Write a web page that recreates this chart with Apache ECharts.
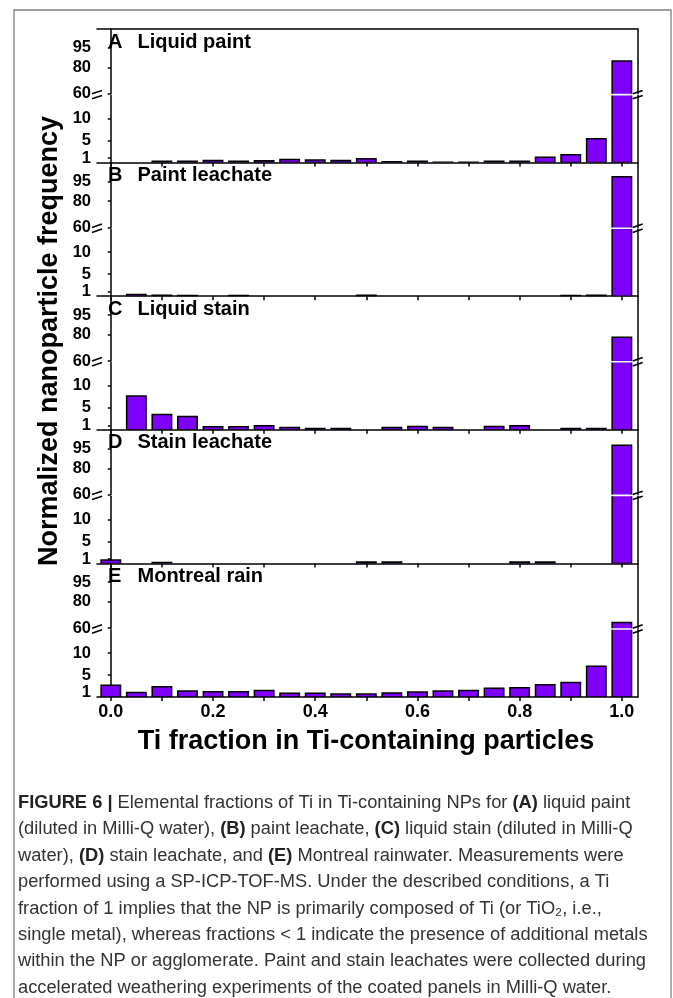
<!DOCTYPE html>
<html><head><meta charset="utf-8">
<script src="https://cdn.jsdelivr.net/npm/echarts@6/dist/echarts.min.js"></script>
<style>html,body{margin:0;padding:0;background:#fff}#c{width:673px;height:998px}</style>
</head><body><div id="c"></div>
<script>
// ---------- data ----------
const binCenters = [0,0.05,0.1,0.15,0.2,0.25,0.3,0.35,0.4,0.45,0.5,0.55,0.6,0.65,0.7,0.75,0.8,0.85,0.9,0.95,1.0];
const panelLetters = ['A','B','C','D','E'];
const panelNames = ['Liquid paint','Paint leachate','Liquid stain','Stain leachate','Montreal rain'];
const liquidPaint   = [0,0,0.3,0.3,0.5,0.3,0.4,0.7,0.6,0.45,0.9,0.2,0.3,0.1,0.1,0.3,0.3,1.2,1.8,5.4,85];
const paintLeachate = [0,0.4,0.2,0.15,0,0.15,0,0,0,0,0.2,0,0,0,0,0,0,0,0.15,0.2,98.5];
const liquidStain   = [0,7.7,3.5,3.0,0.7,0.7,0.9,0.5,0.3,0.3,0,0.5,0.75,0.5,0,0.75,0.9,0,0.3,0.3,78];
const stainLeachate = [0.8,0,0.2,0,0,0,0,0,0,0,0.3,0.3,0,0,0,0,0.3,0.3,0,0,97.5];
const montrealRain  = [2.65,1.05,2.35,1.35,1.2,1.2,1.5,0.85,0.85,0.7,0.7,0.9,1.15,1.35,1.5,2.0,2.1,2.8,3.3,7.0,64.4];
const xTickValues  = [0,0.1,0.2,0.3,0.4,0.5,0.6,0.7,0.8,0.9,1.0];
const xLabelValues = [0,0.2,0.4,0.6,0.8,1.0];
const lowerTicks = [1,5,10];
const upperTicks = [60,80,95];
const breakValue = 60;
const xTitle = 'Ti fraction in Ti-containing particles';
const yTitle = 'Normalized nanoparticle frequency';
const captionLines = [
  [['b','FIGURE 6 |'],['n',' Elemental fractions of Ti in Ti-containing NPs for '],['b','(A)'],['n',' liquid paint']],
  [['n','(diluted in Milli-Q water), '],['b','(B)'],['n',' paint leachate, '],['b','(C)'],['n',' liquid stain (diluted in Milli-Q']],
  [['n','water), '],['b','(D)'],['n',' stain leachate, and '],['b','(E)'],['n',' Montreal rainwater. Measurements were']],
  [['n','performed using a SP-ICP-TOF-MS. Under the described conditions, a Ti']],
  [['n','fraction of 1 implies that the NP is primarily composed of Ti (or TiO₂, i.e.,']],
  [['n','single metal), whereas fractions < 1 indicate the presence of additional metals']],
  [['n','within the NP or agglomerate. Paint and stain leachates were collected during']],
  [['n','accelerated weathering experiments of the coated panels in Milli-Q water.']]
];
const panelData = [liquidPaint, paintLeachate, liquidStain, stainLeachate, montrealRain];

// ---------- layout / style ----------
const FONT = '"Liberation Sans", Arial, sans-serif';
const top0 = 29, panelH = 133.6, lowerPx = 68, gap = 1.6;
const gLeft = 97, gRight = 35.3;
const lowerPxPerUnit = 4.4, upperPxPerUnit = 1.314;
const xMin = -0.027, xMax = 1.031;
const barW = 0.038;
const barColor = '#7f00ff';

function renderBar(params, api) {
  const x = api.value(0), v = api.value(1);
  const p0 = api.coord([x, 0]);
  const p1 = api.coord([x, v]);
  const w = api.size([barW, 0])[0];
  return {type:'rect', shape:{x:p1[0]-w/2, y:p1[1], width:w, height:p0[1]-p1[1]},
          style:{fill:barColor, stroke:'#000', lineWidth:1.5}};
}

const grids=[], xAxes=[], yAxes=[], series=[], graphics=[];
const axisLine = {show:true, lineStyle:{color:'#000', width:1.5}};
for (let p=0;p<5;p++){
  const pt = top0 + p*panelH, pb = pt + panelH;
  const lowerTop = pb - lowerPx + gap/2, lowerH = lowerPx - gap/2;
  const upperTop = pt, upperH = panelH - lowerPx - gap/2;
  const lowerMax = lowerH / lowerPxPerUnit;
  const upperMax = breakValue + upperH / upperPxPerUnit;
  grids.push({left:gLeft, right:gRight, top:lowerTop, height:lowerH});
  grids.push({left:gLeft, right:gRight, top:upperTop, height:upperH});
  const gl = 2*p, gu = 2*p+1;
  xAxes.push({gridIndex:gl, type:'value', min:xMin, max:xMax, position:'bottom',
    axisLine, splitLine:{show:false},
    axisTick:{show:true, customValues:xTickValues, length:4, lineStyle:{color:'#000', width:1.5}},
    axisLabel:{show:p===4, customValues:xLabelValues, margin:6, color:'#000', fontFamily:FONT, fontWeight:'bold', fontSize:18,
      formatter:v=>v.toFixed(1)}});
  xAxes.push({gridIndex:gu, type:'value', min:xMin, max:xMax, position:'top', show:p===0,
    axisLine, axisTick:{show:false}, axisLabel:{show:false}, splitLine:{show:false}});
  const yl = {type:'value', axisLine, splitLine:{show:false},
    axisTick:{show:true, length:3, lineStyle:{color:'#000', width:1.5}},
    axisLabel:{show:true, margin:6, color:'#000', fontFamily:FONT, fontWeight:'bold', fontSize:16.5}};
  yAxes.push(Object.assign({}, yl, {gridIndex:gl, min:0, max:lowerMax,
    axisTick:Object.assign({}, yl.axisTick, {customValues:lowerTicks}),
    axisLabel:Object.assign({}, yl.axisLabel, {customValues:lowerTicks})}));
  yAxes.push({gridIndex:gl, type:'value', min:0, max:lowerMax, position:'right', axisLine,
    axisTick:{show:false}, axisLabel:{show:false}, splitLine:{show:false}});
  yAxes.push(Object.assign({}, yl, {gridIndex:gu, min:breakValue, max:upperMax,
    axisTick:Object.assign({}, yl.axisTick, {customValues:upperTicks}),
    axisLabel:Object.assign({}, yl.axisLabel, {customValues:upperTicks})}));
  yAxes.push({gridIndex:gu, type:'value', min:breakValue, max:upperMax, position:'right', axisLine,
    axisTick:{show:false}, axisLabel:{show:false}, splitLine:{show:false}});
  const vals = panelData[p];
  const lowData = [], upData = [];
  vals.forEach((v,i)=>{ if (v>0) lowData.push([binCenters[i], v]); if (v>breakValue) upData.push([binCenters[i], v]); });
  series.push({type:'custom', xAxisIndex:gl, yAxisIndex:4*p, clip:true, renderItem:renderBar, data:lowData, encode:{x:0,y:1}});
  series.push({type:'custom', xAxisIndex:gu, yAxisIndex:4*p+2, clip:true, renderItem:renderBar, data:upData, encode:{x:0,y:1}});
  // panel label
  graphics.push({type:'text', left:108, top:pt+3, style:{text:panelLetters[p], font:'bold 20px '+FONT, fill:'#000'}});
  graphics.push({type:'text', left:137.5, top:pt+3, style:{text:panelNames[p], font:'bold 20px '+FONT, fill:'#000'}});
  // break marks
  const yb = pb - lowerPx;
  [gLeft, 673-gRight].forEach(ax=>{
    graphics.push({type:'polygon', shape:{points:[[ax-5,yb+0.2],[ax+5,yb-3.2],[ax+5,yb-0.2],[ax-5,yb+3.2]]}, style:{fill:'#fff'}});
    graphics.push({type:'line', shape:{x1:ax-5,y1:yb-0.8,x2:ax+5,y2:yb-4.2}, style:{stroke:'#000', lineWidth:1.6}});
    graphics.push({type:'line', shape:{x1:ax-5,y1:yb+4.2,x2:ax+5,y2:yb+0.8}, style:{stroke:'#000', lineWidth:1.6}});
  });
}

// titles
graphics.push({type:'text', x:366, y:742, style:{text:xTitle, font:'bold 27px '+FONT, fill:'#000', align:'center', verticalAlign:'middle'}});
graphics.push({type:'text', x:50, y:341, rotation:Math.PI/2, style:{text:yTitle, font:'bold 27px '+FONT, fill:'#000', align:'center', verticalAlign:'middle'}});
// frame
graphics.push({type:'rect', shape:{x:14, y:10, width:657, height:1000}, style:{fill:'none', stroke:'#808080', lineWidth:1.3}, silent:true});
// caption
captionLines.forEach((segs,i)=>{
  const txt = segs.map(s=>'{'+s[0]+'|'+s[1].replace(/[{}]/g,'')+'}').join('');
  graphics.push({type:'text', x:18, y:803 + i*26.4, style:{text:txt, verticalAlign:'middle',
    rich:{ b:{font:'bold 18.3px '+FONT, fill:'#222'}, n:{font:'18.3px '+FONT, fill:'#333'} }}});
});

const chart = echarts.init(document.getElementById('c'), null, {renderer:'canvas'});
chart.setOption({animation:false, grid:grids, xAxis:xAxes, yAxis:yAxes, series, graphic:graphics});
</script></body></html>
